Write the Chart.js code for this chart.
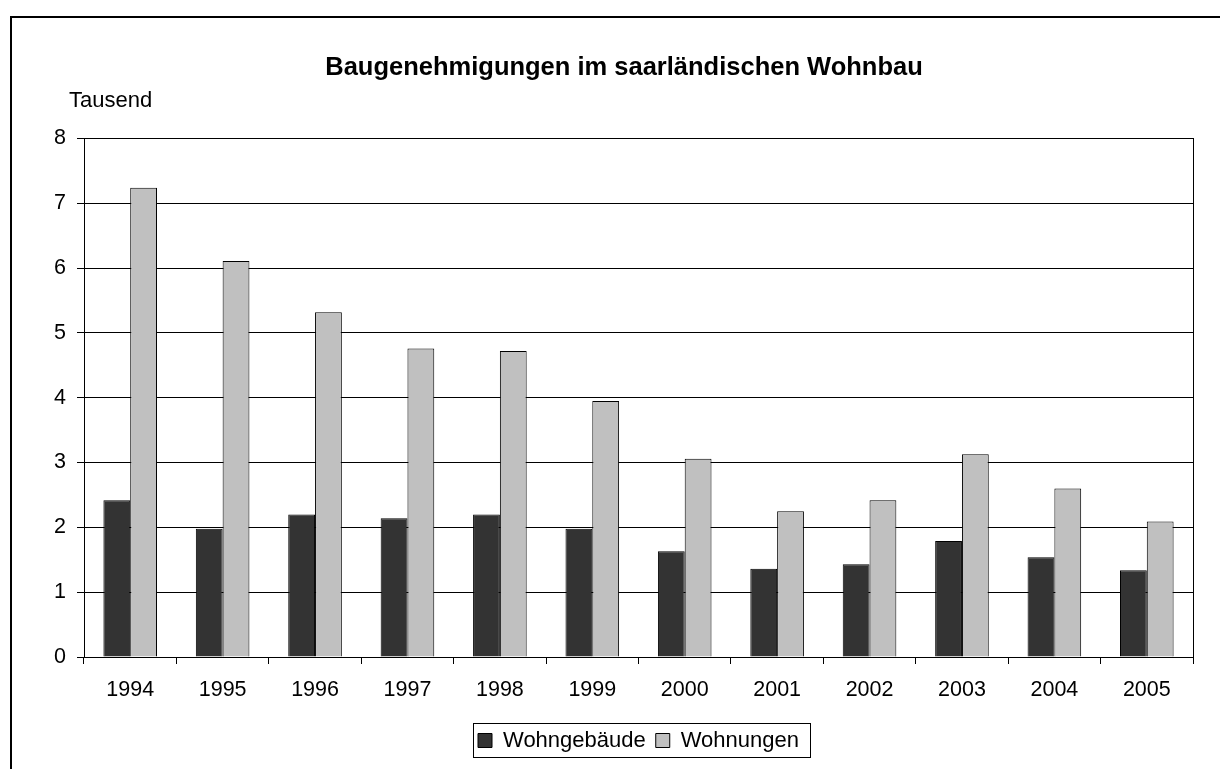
<!DOCTYPE html>
<html>
<head>
<meta charset="utf-8">
<script src="https://cdn.jsdelivr.net/npm/chart.js@4/dist/chart.umd.min.js"></script>
<style>
  body { margin: 0; background: #fff; overflow: hidden; }
  #wrap { position: relative; width: 1220px; height: 769px; }
  #frame { position: absolute; left: 10px; top: 16px; width: 1300px; height: 900px;
           border-left: 2px solid #000; border-top: 2px solid #000; pointer-events: none; }
</style>
</head>
<body>
<div id="wrap">
  <canvas id="chart" width="1220" height="769"></canvas>
  <div id="frame"></div>
</div>
<script>
var years = ['1994','1995','1996','1997','1998','1999','2000','2001','2002','2003','2004','2005'];
var wohngebaeude = [2.42, 1.98, 2.20, 2.14, 2.20, 1.98, 1.63, 1.36, 1.43, 1.79, 1.54, 1.34];
var wohnungen = [7.24, 6.11, 5.32, 4.76, 4.72, 3.95, 3.06, 2.25, 2.42, 3.13, 2.60, 2.09];
var yTicks = [0, 1, 2, 3, 4, 5, 6, 7, 8];

var FONT = 'Liberation Sans, Arial, sans-serif';

// "Tausend" over the y axis and the box round the legend
var extras = {
    id: 'extras',
    afterDraw: function(chart) {
        var c = chart.ctx;
        var a = chart.chartArea;
        c.save();
        c.fillStyle = '#000';
        c.font = '22px ' + FONT;
        c.textAlign = 'left';
        c.textBaseline = 'middle';
        c.fillText('Tausend', a.left - 15, a.top - 37.5);

        var hb = chart.legend.legendHitBoxes;
        if (hb && hb.length) {
            var last = hb[hb.length - 1];
            var l = hb[0].left - 5.5;
            var r = last.left + last.width + 10.5;
            var t = hb[0].top - 6.5;
            var b = hb[0].top + hb[0].height + 5.5;
            c.strokeStyle = '#000';
            c.lineWidth = 1;
            c.strokeRect(Math.round(l) + 0.5, Math.round(t) + 0.5, Math.round(r - l), Math.round(b - t));
        }
        c.restore();
    }
};

var ctx = document.getElementById('chart').getContext('2d');
var myChart = new Chart(ctx, {
    type: 'bar',
    data: {
        labels: years,
        datasets: [{
            label: 'Wohngebäude',
            data: wohngebaeude,
            backgroundColor: '#333333',
            borderColor: '#000000',
            borderWidth: 1
        }, {
            label: 'Wohnungen',
            data: wohnungen,
            backgroundColor: '#c0c0c0',
            borderColor: '#000000',
            borderWidth: 1
        }]
    },
    options: {
        responsive: false,
        animation: false,
        devicePixelRatio: 1,
        layout: { padding: { left: 28, right: 0, top: 0, bottom: 7.5 } },
        datasets: { bar: { categoryPercentage: 0.58, barPercentage: 1.0 } },
        plugins: {
            title: {
                display: true,
                text: 'Baugenehmigungen im saarländischen Wohnbau',
                color: '#000',
                font: { family: FONT, size: 25.5, weight: 'bold' },
                padding: { top: 52.7, bottom: 55.2 }
            },
            legend: {
                position: 'bottom',
                fullSize: false,
                labels: {
                    color: '#000',
                    font: { family: FONT, size: 22 },
                    boxWidth: 14,
                    boxHeight: 14,
                    padding: 10
                }
            },
            tooltip: { enabled: false }
        },
        scales: {
            x: {
                grid: { display: true, drawOnChartArea: false, drawTicks: true, tickLength: 7, color: '#000', offset: true },
                border: { display: true, color: '#000', width: 1 },
                ticks: { color: '#000', font: { family: FONT, size: 21.5 }, padding: 13, maxRotation: 0 },
                afterFit: function(s) { s.height = 62.5; }
            },
            y: {
                min: 0,
                max: 8,
                afterBuildTicks: function(s) { s.ticks = yTicks.map(function(v) { return { value: v }; }); },
                grid: { color: '#000', lineWidth: 1, tickLength: 7 },
                border: { display: true, color: '#000', width: 1 },
                ticks: { color: '#000', font: { family: FONT, size: 21.5 }, padding: 11 },
                afterFit: function(s) { s.width = 56; }
            },
            yRight: {
                position: 'right',
                min: 0,
                max: 8,
                grid: { display: false, drawOnChartArea: false, drawTicks: false },
                border: { display: true, color: '#000', width: 1 },
                ticks: { display: false },
                afterFit: function(s) { s.width = 27; }
            }
        }
    },
    plugins: [extras]
});
</script>
</body>
</html>
